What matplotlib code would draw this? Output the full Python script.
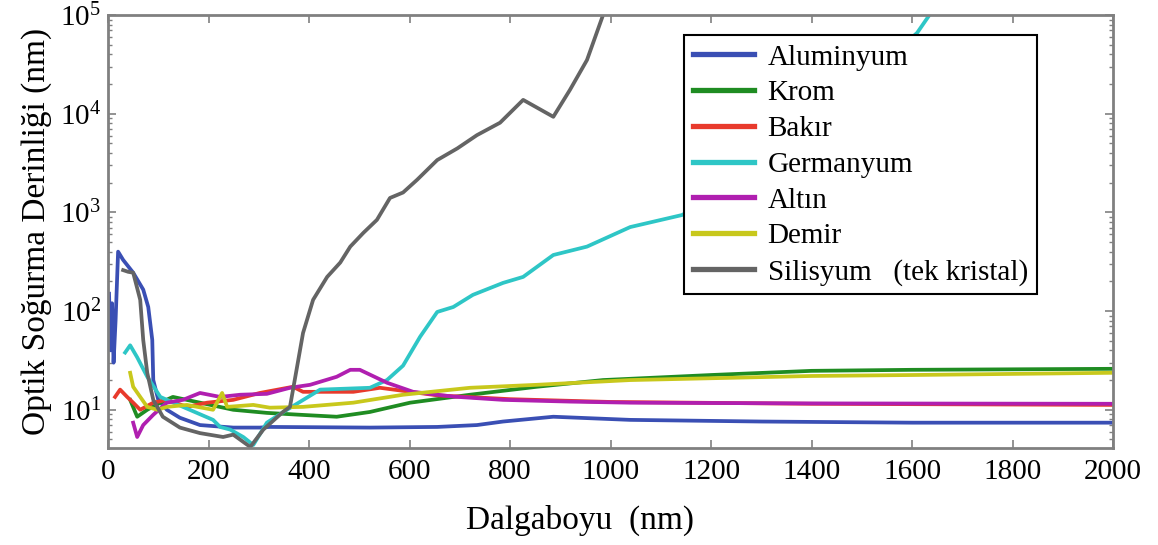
import matplotlib.pyplot as plt
from matplotlib.ticker import LogLocator, FixedLocator

# Optical absorption depth vs wavelength (nm), log scale
al_x = [2, 5, 8, 11, 15, 20, 30, 50, 70, 80, 88, 90, 100, 117, 143, 183, 249, 302, 322,
        521, 655, 734, 786, 886, 1039, 1300, 1600, 2000]
al_y = [150, 40, 120, 30, 80, 400, 330, 245, 165, 110, 51, 20, 12.6, 10, 8.3, 7.0, 6.6, 6.6, 6.7,
        6.6, 6.7, 7.0, 7.6, 8.5, 7.9, 7.6, 7.4, 7.4]

cr_x = [44, 58, 78, 104, 129, 183, 249, 316, 382, 455, 521, 601, 720, 853, 985, 1200, 1400,
        1600, 2000]
cr_y = [12.6, 8.5, 10, 11.8, 13.5, 11.8, 10, 9.3, 8.9, 8.5, 9.5, 11.8, 14.2, 17.1, 20, 22.5,
        24.8, 25.4, 26]

cu_x = [14, 24, 38, 50, 64, 90, 117, 157, 197, 249, 302, 368, 388, 488, 541, 655, 800, 1000,
        1400, 2000]
cu_y = [13.5, 16, 13.5, 11.8, 10, 11.8, 12.6, 10.7, 11.8, 12.6, 14.8, 17.1, 15.2, 15.2, 16.7,
        14.0, 12.8, 12.0, 11.5, 11.2]

ge_x = [34, 44, 58, 78, 104, 149, 209, 223, 243, 269, 289, 316, 356, 422, 521, 555, 587, 621,
        655, 687, 726, 786, 826, 886, 953, 1039, 1142, 1300, 1450, 1610, 1640]
ge_y = [38, 45, 34, 21.6, 13.5, 10.7, 7.9, 6.7, 6.3, 5.3, 4.4, 7.4, 10, 16, 16.7, 20, 28, 55,
        98, 110, 146, 193, 222, 370, 450, 710, 940, 2500, 12000, 66000, 110000]

au_x = [50, 58, 70, 90, 117, 149, 183, 223, 263, 316, 362, 402, 455, 482, 501, 555, 607, 687,
        786, 919, 1039, 1400, 2000]
au_y = [7.4, 5.3, 7.0, 8.9, 11.8, 12.6, 14.8, 13.5, 14.2, 14.5, 16.7, 17.9, 21.6, 25.4, 25.4,
        18.8, 15.2, 13.6, 12.6, 12.1, 11.8, 11.6, 11.5]

fe_x = [44, 50, 64, 78, 98, 117, 157, 209, 227, 237, 289, 322, 388, 488, 587, 720, 853, 1039,
        1400, 1600, 2000]
fe_y = [23.7, 17.1, 13.5, 10.7, 10, 10.7, 11.2, 10, 14.8, 10.7, 11.2, 10.5, 10.7, 11.8, 14.2,
        16.7, 17.9, 20, 22, 22.5, 23.7]

si_x = [30, 40, 50, 64, 70, 78, 90, 109, 143, 183, 229, 249, 283, 309, 348, 362, 376, 388,
        408, 436, 462, 482, 508, 535, 561, 587, 615, 655, 695, 734, 780, 826, 886, 919, 953,
        985, 1000]
si_y = [260, 250, 245, 130, 51, 23.7, 12.6, 8.5, 6.6, 5.8, 5.3, 5.6, 4.2, 6.3, 9.5, 10.7, 27,
        60, 130, 222, 310, 450, 620, 840, 1400, 1590, 2140, 3390, 4450, 6060, 8100, 13800, 9300,
        17400, 35000, 100000, 120000]

series = [
    ("Aluminyum", al_x, al_y, "#3a4fb4"),
    ("Krom", cr_x, cr_y, "#1f8c22"),
    ("Bakır", cu_x, cu_y, "#e83a2c"),
    ("Germanyum", ge_x, ge_y, "#2ec6c6"),
    ("Altın", au_x, au_y, "#b01fb0"),
    ("Demir", fe_x, fe_y, "#c8c81c"),
    ("Silisyum   (tek kristal)", si_x, si_y, "#646464"),
]

plt.rcParams["font.family"] = "serif"
plt.rcParams["font.serif"] = ["Liberation Serif", "DejaVu Serif"]
plt.rcParams["mathtext.fontset"] = "custom"
plt.rcParams["mathtext.rm"] = "Liberation Serif"
plt.rcParams["mathtext.it"] = "Liberation Serif:italic"

fig = plt.figure(figsize=(11.58, 5.45), dpi=100)
ax = fig.add_axes([0.0933, 0.178, 0.868, 0.7945])

for name, xs, ys, color in series:
    ax.plot(xs, ys, color=color, lw=2.7, label=name, solid_joinstyle="round")

ax.set_yscale("log")
ax.set_xlim(0, 2000)
ax.set_ylim(4.1, 1e5)
ax.xaxis.set_major_locator(FixedLocator(range(0, 2001, 200)))
ax.yaxis.set_major_locator(LogLocator(base=10, numticks=10))
ax.yaxis.set_minor_locator(LogLocator(base=10, subs=range(2, 10), numticks=10))

for side in ax.spines.values():
    side.set_color("#808080")
    side.set_linewidth(2)

ax.tick_params(which="both", direction="in", top=True, right=True, colors="#808080",
               labelcolor="black", labelsize=21)
ax.tick_params(which="major", length=6, width=1.2)
ax.tick_params(which="minor", length=3, width=1)
ax.tick_params(axis="x", pad=8)
ax.tick_params(axis="y", pad=5)

ax.set_xlabel("Dalgaboyu  (nm)", fontsize=24)
ax.xaxis.set_label_coords(0.47, -0.13)
ax.set_ylabel("Optik Soğurma Derinliği (nm)", fontsize=24, labelpad=6)

leg = ax.legend(loc="upper left", bbox_to_anchor=(0.5734, 0.953), fontsize=21, frameon=True,
                fancybox=False, edgecolor="black", framealpha=1, handlelength=2.1,
                handletextpad=0.45, labelspacing=0.32, borderpad=0.3, borderaxespad=0)
leg.get_frame().set_linewidth(1.5)
for line in leg.get_lines():
    line.set_linewidth(3.8)

fig.savefig("out.png", dpi=100)
